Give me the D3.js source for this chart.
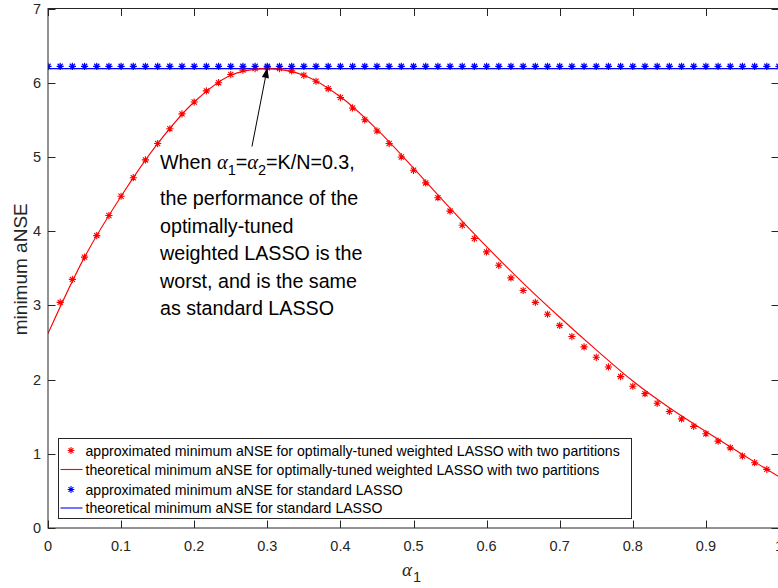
<!DOCTYPE html>
<html>
<head>
<meta charset="utf-8">
<script src="https://cdn.jsdelivr.net/npm/d3@7"></script>
<style>
  html, body { margin: 0; padding: 0; background: #fff; }
  svg { display: block; }
  text { font-family: "Liberation Sans", Arial, Helvetica, sans-serif; }
</style>
</head>
<body>
<svg id="chart" width="778" height="588"></svg>
<script>
// α1 sampling grid (step 1/60)
const alphaStep = 1 / 60;

// approximated minimum aNSE, optimally-tuned weighted LASSO (α1 = 1/60 … 59/60)
const approxWeighted = [
  3.04, 3.35, 3.65, 3.94, 4.21, 4.47, 4.72, 4.96, 5.18, 5.38,
  5.58, 5.74, 5.89, 6.00, 6.11, 6.17, 6.19, 6.20, 6.19, 6.16,
  6.10, 6.02, 5.92, 5.80, 5.66, 5.50, 5.35, 5.18, 5.00, 4.82,
  4.65, 4.45, 4.27, 4.08, 3.90, 3.72, 3.54, 3.37, 3.20, 3.04,
  2.88, 2.73, 2.58, 2.44, 2.30, 2.17, 2.04, 1.91, 1.81, 1.68,
  1.57, 1.47, 1.37, 1.27, 1.17, 1.08, 0.97, 0.88, 0.79
];

// theoretical minimum aNSE, optimally-tuned weighted LASSO (α1 = 0, 0.05, …, 1)
const theoryAlpha = [0, 0.05, 0.10, 0.15, 0.20, 0.25, 0.30, 0.35, 0.40, 0.45, 0.50,
                     0.55, 0.60, 0.65, 0.70, 0.75, 0.80, 0.85, 0.90, 0.95, 1.00];
const theoryWeighted = [2.62, 3.65, 4.47, 5.18, 5.74, 6.10, 6.19, 6.10, 5.81, 5.37, 4.85,
                        4.31, 3.79, 3.30, 2.84, 2.40, 1.98, 1.62, 1.30, 0.99, 0.69];

// approximated minimum aNSE, standard LASSO (α1 = 0 … 1)
const approxStandard = [
  6.22, 6.22, 6.22, 6.22, 6.22, 6.22, 6.22, 6.22, 6.22, 6.22,
  6.22, 6.22, 6.22, 6.22, 6.22, 6.22, 6.22, 6.22, 6.22, 6.22,
  6.22, 6.22, 6.22, 6.22, 6.22, 6.22, 6.22, 6.22, 6.22, 6.22,
  6.22, 6.22, 6.22, 6.22, 6.22, 6.22, 6.22, 6.22, 6.22, 6.22,
  6.22, 6.22, 6.22, 6.22, 6.22, 6.22, 6.22, 6.22, 6.22, 6.22,
  6.22, 6.22, 6.22, 6.22, 6.22, 6.22, 6.22, 6.22, 6.22, 6.22,
  6.22
];

// theoretical minimum aNSE, standard LASSO (constant)
const theoryStandard = 6.19;

const xTicks = [0, 0.1, 0.2, 0.3, 0.4, 0.5, 0.6, 0.7, 0.8, 0.9, 1];
const yTicks = [0, 1, 2, 3, 4, 5, 6, 7];

const legendLabels = [
  "approximated minimum aNSE for optimally-tuned weighted LASSO with two partitions",
  "theoretical minimum aNSE for optimally-tuned weighted LASSO with two partitions",
  "approximated minimum aNSE for standard LASSO",
  "theoretical minimum aNSE for standard LASSO"
];

// annotation arrow: tail and head in data units
const arrowTail = { a: 0.279, v: 5.14 };
const arrowHead = { a: 0.300, v: 6.20 };
const noteLines = [
  "the performance of the",
  "optimally-tuned",
  "weighted LASSO is the",
  "worst, and is the same",
  "as standard LASSO"
];

const svg = d3.select("#chart");
const axisColor = "#262626";
const plot = { left: 48, right: 779, top: 8.5, bottom: 528 };

const x = d3.scaleLinear().domain([0, 1]).range([plot.left, plot.right]);
const y = d3.scaleLinear().domain([0, 7]).range([plot.bottom, plot.top]);

const clipId = "plot-clip";
svg.append("defs").append("clipPath").attr("id", clipId)
  .append("rect").attr("x", plot.left).attr("y", plot.top)
  .attr("width", plot.right - plot.left).attr("height", plot.bottom - plot.top);

// star marker (MATLAB "*"): plus + cross
function starPath(r) {
  const d = r * 0.72;
  return `M${-r},0L${r},0M0,${-r}L0,${r}M${-d},${-d}L${d},${d}M${-d},${d}L${d},${-d}`;
}

const g = svg.append("g").attr("clip-path", `url(#${clipId})`);

// theoretical standard LASSO line
g.append("line")
  .attr("x1", x(0)).attr("x2", x(1))
  .attr("y1", y(theoryStandard)).attr("y2", y(theoryStandard))
  .attr("stroke", "#0000ff").attr("stroke-width", 1.2);

// theoretical weighted LASSO curve
const line = d3.line()
  .x((d, i) => x(theoryAlpha[i]))
  .y(d => y(d))
  .curve(d3.curveCatmullRom.alpha(0.5));
g.append("path")
  .datum(theoryWeighted)
  .attr("d", line)
  .attr("fill", "none")
  .attr("stroke", "#ff0000")
  .attr("stroke-width", 1.1);

// approximated weighted LASSO stars
g.selectAll(".star-w")
  .data(approxWeighted)
  .join("path")
  .attr("class", "star-w")
  .attr("transform", (d, i) => `translate(${x((i + 1) * alphaStep)},${y(d)})`)
  .attr("d", starPath(3.6))
  .attr("fill", "none")
  .attr("stroke", "#ff0000")
  .attr("stroke-width", 1.1);

// approximated standard LASSO stars
g.selectAll(".star-s")
  .data(approxStandard)
  .join("path")
  .attr("class", "star-s")
  .attr("transform", (d, i) => `translate(${x(i * alphaStep)},${y(d)})`)
  .attr("d", starPath(3.6))
  .attr("fill", "none")
  .attr("stroke", "#0000ff")
  .attr("stroke-width", 1.2);

// axes box with inward ticks
const tickLen = 7.5;
const axes = svg.append("g");
axes.append("rect")
  .attr("x", plot.left).attr("y", plot.top)
  .attr("width", plot.right - plot.left).attr("height", plot.bottom - plot.top)
  .attr("fill", "none").attr("stroke", axisColor).attr("stroke-width", 1);

xTicks.forEach(t => {
  const px = Math.round(x(t)) + 0.5;
  axes.append("line").attr("x1", px).attr("x2", px)
    .attr("y1", plot.bottom).attr("y2", plot.bottom - tickLen)
    .attr("stroke", axisColor);
  axes.append("line").attr("x1", px).attr("x2", px)
    .attr("y1", plot.top).attr("y2", plot.top + tickLen)
    .attr("stroke", axisColor);
  axes.append("text")
    .attr("x", x(t)).attr("y", plot.bottom + 23)
    .attr("text-anchor", "middle")
    .attr("font-size", 14.5).attr("fill", axisColor)
    .text(d3.format("")(t));
});

yTicks.forEach(t => {
  const py = Math.round(y(t)) + 0.5;
  axes.append("line").attr("x1", plot.left).attr("x2", plot.left + tickLen)
    .attr("y1", py).attr("y2", py).attr("stroke", axisColor);
  axes.append("line").attr("x1", plot.right).attr("x2", plot.right - tickLen)
    .attr("y1", py).attr("y2", py).attr("stroke", axisColor);
  axes.append("text")
    .attr("x", plot.left - 7).attr("y", y(t) + 5)
    .attr("text-anchor", "end")
    .attr("font-size", 14.5).attr("fill", axisColor)
    .text(t);
});

// axis labels
svg.append("text")
  .attr("transform", `translate(27,${(plot.top + plot.bottom) / 2 + 1}) rotate(-90)`)
  .attr("text-anchor", "middle")
  .attr("font-size", 19).attr("fill", axisColor)
  .text("minimum aNSE");

const xl = svg.append("text")
  .attr("x", 402).attr("y", 576)
  .attr("fill", axisColor);
xl.append("tspan").attr("font-family", "'Liberation Serif', 'DejaVu Serif', serif")
  .attr("font-style", "italic").attr("font-size", 19).text("α");
xl.append("tspan").attr("font-size", 14.5).attr("dy", 6).attr("dx", 1).text("1");

// annotation
const ax = svg.append("g");
const tx = x(arrowTail.a), ty = y(arrowTail.v);
const hx = x(arrowHead.a), hy = y(arrowHead.v);
const ang = Math.atan2(hy - ty, hx - tx);
const headLen = 10, headHalf = 3.6;
const bx = hx - headLen * Math.cos(ang), by = hy - headLen * Math.sin(ang);
ax.append("line")
  .attr("x1", tx).attr("y1", ty).attr("x2", bx).attr("y2", by)
  .attr("stroke", "#000").attr("stroke-width", 1);
ax.append("path")
  .attr("d", `M${hx},${hy}L${bx - headHalf * Math.sin(ang)},${by + headHalf * Math.cos(ang)}L${bx + headHalf * Math.sin(ang)},${by - headHalf * Math.cos(ang)}Z`)
  .attr("fill", "#000");

const noteX = 160, noteSize = 19.7;
const first = svg.append("text").attr("x", noteX).attr("y", 169).attr("font-size", noteSize).attr("fill", "#000");
const serif = "'Liberation Serif', 'DejaVu Serif', serif";
first.append("tspan").text("When ");
first.append("tspan").attr("font-family", serif).attr("font-style", "italic").attr("font-size", 20.5).text("α");
first.append("tspan").attr("font-size", 14.5).attr("dy", 6).text("1");
first.append("tspan").attr("dy", -6).text("=");
first.append("tspan").attr("font-family", serif).attr("font-style", "italic").attr("font-size", 20.5).text("α");
first.append("tspan").attr("font-size", 14.5).attr("dy", 6).text("2");
first.append("tspan").attr("dy", -6).text("=K/N=0.3,");

noteLines.forEach((s, i) => {
  svg.append("text")
    .attr("x", noteX).attr("y", 205 + i * 27.5)
    .attr("font-size", noteSize).attr("fill", "#000")
    .text(s);
});

// legend
const leg = svg.append("g");
const lg = { x: 58.5, y: 438.5, w: 573, h: 80 };
leg.append("rect").attr("x", lg.x).attr("y", lg.y).attr("width", lg.w).attr("height", lg.h)
  .attr("fill", "#fff").attr("stroke", axisColor).attr("stroke-width", 1);
const rowY = [450.5, 469.5, 489.5, 508];
const rowColor = ["#ff0000", "#ff0000", "#0000ff", "#0000ff"];
const rowKind = ["star", "line", "star", "line"];
legendLabels.forEach((s, i) => {
  if (rowKind[i] === "star") {
    leg.append("path").attr("transform", `translate(71,${rowY[i]})`)
      .attr("d", starPath(3.4)).attr("fill", "none")
      .attr("stroke", rowColor[i]).attr("stroke-width", 1.1);
  } else {
    leg.append("line").attr("x1", 60.5).attr("x2", 82.5)
      .attr("y1", rowY[i]).attr("y2", rowY[i])
      .attr("stroke", rowColor[i]).attr("stroke-width", 1.1);
  }
  leg.append("text").attr("x", 85.5).attr("y", rowY[i] + 5)
    .attr("font-size", 14.1).attr("fill", "#000").text(s);
});
</script>
</body>
</html>
